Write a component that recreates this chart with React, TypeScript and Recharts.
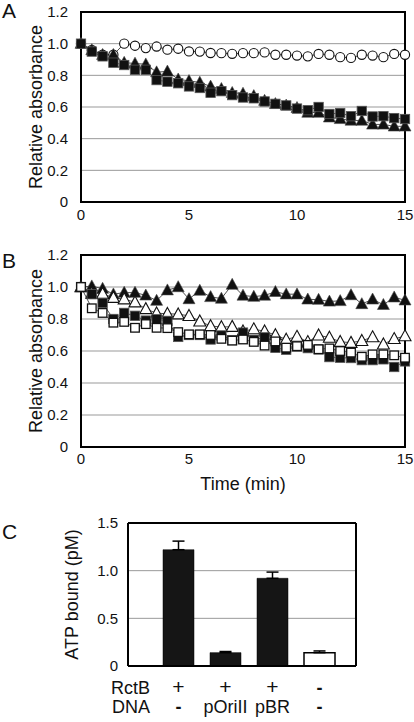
import React from 'react';
import {
  LineChart,
  Line,
  XAxis,
  YAxis,
  CartesianGrid,
  ReferenceArea,
  BarChart,
  Bar,
  ErrorBar,
  Cell,
} from 'recharts';

const FONT = '"Liberation Sans", Arial, Helvetica, sans-serif';

// ---------- data ----------
const times = [0, 0.5, 1, 1.5, 2, 2.5, 3, 3.5, 4, 4.5, 5, 5.5, 6, 6.5, 7, 7.5, 8, 8.5, 9, 9.5, 10, 10.5, 11, 11.5, 12, 12.5, 13, 13.5, 14, 14.5, 15];

// Panel A
const aOpenCircle = [1.0, 0.96, 0.93, 0.93, 1.0, 0.987, 0.972, 0.982, 0.962, 0.968, 0.951, 0.95, 0.941, 0.94, 0.936, 0.94, 0.94, 0.945, 0.93, 0.93, 0.925, 0.92, 0.935, 0.93, 0.915, 0.91, 0.93, 0.925, 0.915, 0.935, 0.93];
const aFilledSquare = [1.0, 0.95, 0.92, 0.88, 0.865, 0.835, 0.835, 0.77, 0.76, 0.75, 0.73, 0.72, 0.69, 0.7, 0.675, 0.66, 0.655, 0.635, 0.62, 0.61, 0.59, 0.58, 0.6, 0.556, 0.562, 0.542, 0.575, 0.54, 0.542, 0.53, 0.524];
const aFilledTriangle = [1.0, 0.96, 0.93, 0.93, 0.88, 0.875, 0.87, 0.82, 0.825, 0.775, 0.765, 0.755, 0.73, 0.715, 0.69, 0.685, 0.67, 0.64, 0.62, 0.61, 0.595, 0.565, 0.565, 0.535, 0.525, 0.515, 0.515, 0.49, 0.49, 0.478, 0.478];

// Panel B
const bFilledTriangle = [1.0, 1.005, 0.99, 0.955, 0.965, 0.965, 0.948, 0.915, 0.98, 1.0, 0.925, 0.978, 0.938, 0.928, 1.015, 0.947, 0.94, 0.947, 0.97, 0.955, 0.955, 0.923, 0.921, 0.91, 0.913, 0.95, 0.894, 0.923, 0.889, 0.936, 0.917];
const bOpenTriangle = [1.0, 0.96, 0.958, 0.933, 0.924, 0.905, 0.863, 0.836, 0.833, 0.83, 0.82, 0.786, 0.756, 0.75, 0.752, 0.723, 0.737, 0.723, 0.7, 0.672, 0.69, 0.657, 0.698, 0.684, 0.658, 0.652, 0.664, 0.687, 0.642, 0.676, 0.693];
const bFilledSquare = [1.0, 0.955, 0.9, 0.8, 0.838, 0.82, 0.79, 0.798, 0.788, 0.688, 0.7, 0.7, 0.672, 0.697, 0.668, 0.715, 0.67, 0.685, 0.62, 0.608, 0.628, 0.618, 0.61, 0.562, 0.558, 0.556, 0.543, 0.543, 0.548, 0.5, 0.535];
const bOpenSquare = [1.0, 0.867, 0.838, 0.777, 0.782, 0.745, 0.768, 0.745, 0.743, 0.718, 0.704, 0.704, 0.7, 0.676, 0.665, 0.672, 0.657, 0.634, 0.66, 0.621, 0.63, 0.638, 0.611, 0.616, 0.6, 0.59, 0.564, 0.579, 0.579, 0.573, 0.558];

const timeTicks = [0, 5, 10, 15];
const absTicks = [0, 0.2, 0.4, 0.6, 0.8, 1.0, 1.2];

// Panel C
const cRctB = ['+', '+', '+', '-'];
const cDNA = ['-', 'pOriII', 'pBR', '-'];
const cRowLabels = ['RctB', 'DNA'];
const cValues = [1.22, 0.14, 0.92, 0.14];
const cErrors = [0.09, 0.012, 0.065, 0.018];
const cTicks = [0, 0.5, 1.0, 1.5];

const panelA = times.map((t, i) => ({ t, circ: aOpenCircle[i], sq: aFilledSquare[i], tri: aFilledTriangle[i] }));
const panelB = times.map((t, i) => ({ t, ftri: bFilledTriangle[i], otri: bOpenTriangle[i], fsq: bFilledSquare[i], osq: bOpenSquare[i] }));
const panelC = cValues.map((v, i) => ({ cat: `c${i}`, v, err: [0, cErrors[i]] }));

// ---------- markers ----------
const marker = (kind: string) => (props: any) => {
  const { cx, cy, index } = props;
  const key = `${kind}-${index}`;
  if (cx == null || cy == null) return <g key={key} />;
  if (kind === 'circle') return <circle key={key} cx={cx} cy={cy} r={4.6} fill="#fff" stroke="#111" strokeWidth={1.1} />;
  if (kind === 'fsq') return <rect key={key} x={cx - 4.7} y={cy - 4.7} width={9.4} height={9.4} fill="#111" stroke="#555" strokeWidth={0.8} />;
  if (kind === 'osq') return <rect key={key} x={cx - 4.3} y={cy - 4.3} width={8.6} height={8.6} fill="#fff" stroke="#111" strokeWidth={1.3} />;
  if (kind === 'ftri') return <path key={key} d={`M${cx},${cy - 6.3} L${cx + 6},${cy + 4.7} L${cx - 6},${cy + 4.7} Z`} fill="#111" stroke="#444" strokeWidth={0.6} />;
  return <path key={key} d={`M${cx},${cy - 6.3} L${cx + 6},${cy + 4.7} L${cx - 6},${cy + 4.7} Z`} fill="#fff" stroke="#111" strokeWidth={1.1} />;
};

// ---------- labels ----------
const VTitle = (props: any) => {
  const { viewBox, value, bx } = props;
  const cy = viewBox ? viewBox.y + viewBox.height / 2 : 0;
  return (
    <text x={bx} y={cy} transform={`rotate(-90 ${bx} ${cy})`} textAnchor="middle" fontSize={18} fontFamily={FONT} fill="#111">
      {value}
    </text>
  );
};

const HTitle = (props: any) => {
  const { viewBox, value, by } = props;
  const cx = viewBox ? viewBox.x + viewBox.width / 2 : 0;
  return (
    <text x={cx} y={by} textAnchor="middle" fontSize={18} fontFamily={FONT} fill="#111">
      {value}
    </text>
  );
};

const fmt = (v: number) => (v === 0 ? '0' : v.toFixed(1));
const tickStyle = { fontSize: 15, fontFamily: FONT, fill: '#111' };
const hiddenTickLine = { stroke: 'none' };

const CTick = (props: any) => {
  const { x, y, index } = props;
  const r1 = cRctB[index];
  const r2 = cDNA[index];
  const sym = (s: string, yy: number, k: string) => (
    <text
      key={k}
      x={x}
      y={yy}
      textAnchor="middle"
      fontSize={s === '+' ? 21 : 18}
      fontFamily={FONT}
      fill="#111"
      fontWeight={s === '-' ? 'bold' : 'normal'}
    >
      {s}
    </text>
  );
  return (
    <g>
      {index === 0 && (
        <>
          <text x={150} y={y + 28} textAnchor="end" fontSize={18} fontFamily={FONT} fill="#111">{cRowLabels[0]}</text>
          <text x={150} y={y + 47} textAnchor="end" fontSize={18} fontFamily={FONT} fill="#111">{cRowLabels[1]}</text>
        </>
      )}
      {sym(r1, y + 28, 'r1')}
      {sym(r2, y + 47, 'r2')}
    </g>
  );
};

const letterStyle = (top: number): React.CSSProperties => ({
  position: 'absolute',
  left: 2,
  top,
  fontSize: 21,
  lineHeight: '21px',
  fontFamily: FONT,
  color: '#111',
});

const lineCommon = { type: 'linear' as const, stroke: '#222', strokeWidth: 0.8, isAnimationActive: false, activeDot: false as const };
const frame = { stroke: '#000', strokeWidth: 2 };

const frameTop = (p: any) => [p.offset.top];
const frameRight = (p: any) => [p.offset.left + p.offset.width];

export default function App() {
  return (
    <div style={{ position: 'absolute', left: 0, top: 0, width: 414, height: 722, background: '#fff', overflow: 'hidden' }}>
      <div style={letterStyle(0)}>A</div>
      <div style={letterStyle(250)}>B</div>
      <div style={letterStyle(521)}>C</div>

      {/* Panel A */}
      <div style={{ position: 'absolute', left: 0, top: 0 }}>
        <LineChart width={414} height={240} data={panelA} margin={{ top: 12, right: 9, bottom: 0, left: 0 }}>
          <CartesianGrid vertical={false} stroke="#999" strokeWidth={1} />
          <XAxis
            dataKey="t"
            type="number"
            domain={[0, 15]}
            ticks={timeTicks}
            height={38}
            tickLine={hiddenTickLine}
            tickSize={6}
            tickMargin={1}
            axisLine={frame}
            tick={tickStyle}
          />
          <YAxis
            type="number"
            domain={[0, 1.2]}
            ticks={absTicks}
            width={81}
            tickLine={hiddenTickLine}
            tickSize={6}
            tickMargin={7}
            tickFormatter={fmt}
            axisLine={frame}
            tick={tickStyle}
            label={<VTitle value="Relative absorbance" bx={42} />}
          />
          <ReferenceArea x1={0} x2={15} y1={0} y2={1.2} fill="none" stroke="#000" strokeWidth={2} />
          <Line {...lineCommon} dataKey="circ" dot={marker('circle')} />
          <Line {...lineCommon} dataKey="tri" dot={marker('ftri')} />
          <Line {...lineCommon} dataKey="sq" dot={marker('fsq')} />
        </LineChart>
      </div>

      {/* Panel B */}
      <div style={{ position: 'absolute', left: 0, top: 240 }}>
        <LineChart width={414} height={260} data={panelB} margin={{ top: 15, right: 9, bottom: 0, left: 0 }}>
          <CartesianGrid vertical={false} stroke="#999" strokeWidth={1} />
          <XAxis
            dataKey="t"
            type="number"
            domain={[0, 15]}
            ticks={timeTicks}
            height={53}
            tickLine={hiddenTickLine}
            tickSize={6}
            tickMargin={0}
            axisLine={frame}
            tick={tickStyle}
            label={<HTitle value="Time (min)" by={250} />}
          />
          <YAxis
            type="number"
            domain={[0, 1.2]}
            ticks={absTicks}
            width={81}
            tickLine={hiddenTickLine}
            tickSize={6}
            tickMargin={7}
            tickFormatter={fmt}
            axisLine={frame}
            tick={tickStyle}
            label={<VTitle value="Relative absorbance" bx={42} />}
          />
          <ReferenceArea x1={0} x2={15} y1={0} y2={1.2} fill="none" stroke="#000" strokeWidth={2} />
          <Line {...lineCommon} dataKey="ftri" dot={marker('ftri')} />
          <Line {...lineCommon} dataKey="otri" dot={marker('otri')} />
          <Line {...lineCommon} dataKey="fsq" dot={marker('fsq')} />
          <Line {...lineCommon} dataKey="osq" dot={marker('osq')} />
        </LineChart>
      </div>

      {/* Panel C */}
      <div style={{ position: 'absolute', left: 0, top: 500 }}>
        <BarChart width={414} height={222} data={panelC} margin={{ top: 23, right: 58, bottom: 0, left: 0 }}>
          <CartesianGrid vertical={false} stroke="#999" strokeWidth={1} />
          <CartesianGrid
            stroke="#000"
            strokeWidth={2}
            horizontalCoordinatesGenerator={frameTop}
            verticalCoordinatesGenerator={frameRight}
          />
          <XAxis
            dataKey="cat"
            type="category"
            height={56}
            padding={{ left: 27, right: 13 }}
            tickLine={false}
            tickSize={0}
            tickMargin={0}
            axisLine={frame}
            tick={<CTick />}
            interval={0}
          />
          <YAxis
            type="number"
            domain={[0, 1.5]}
            ticks={cTicks}
            width={128}
            tickLine={hiddenTickLine}
            tickSize={6}
            tickMargin={4}
            tickFormatter={fmt}
            axisLine={frame}
            tick={tickStyle}
            label={<VTitle value="ATP bound (pM)" bx={78} />}
          />
          <Bar dataKey="v" barSize={31} isAnimationActive={false}>
            {panelC.map((d, i) => (
              <Cell key={d.cat} fill={i === panelC.length - 1 ? '#fff' : '#151515'} stroke="#000" strokeWidth={i === panelC.length - 1 ? 1.5 : 0.5} />
            ))}
            <ErrorBar dataKey="err" direction="y" width={6} stroke="#000" strokeWidth={1.5} />
          </Bar>
        </BarChart>
      </div>
    </div>
  );
}
